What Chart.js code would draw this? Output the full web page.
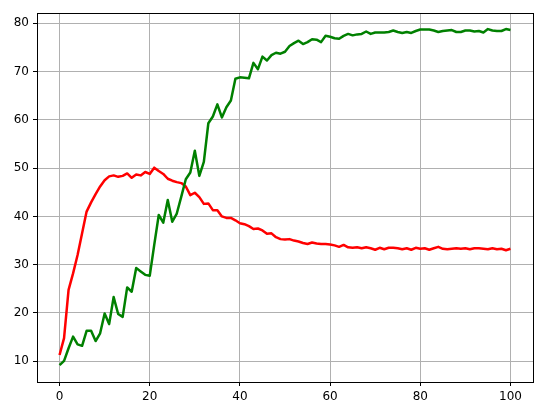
<!DOCTYPE html>
<html>
<head>
<meta charset="utf-8">
<script src="https://cdn.jsdelivr.net/npm/chart.js@4.4.1/dist/chart.umd.min.js"></script>
<style>
  html, body { margin: 0; padding: 0; background: #fff; }
  #wrap { width: 546px; height: 416px; }
</style>
</head>
<body>
<div id="wrap"><canvas id="chart" width="546" height="416"></canvas></div>
<script>
// x positions of every sample (epochs)
const steps = [
  0, 1, 2, 3, 4, 5, 6, 7, 8, 9, 10, 11, 12, 13, 14, 15, 16, 17, 18, 19,
  20, 21, 22, 23, 24, 25, 26, 27, 28, 29, 30, 31, 32, 33, 34, 35, 36, 37, 38, 39,
  40, 41, 42, 43, 44, 45, 46, 47, 48, 49, 50, 51, 52, 53, 54, 55, 56, 57, 58, 59,
  60, 61, 62, 63, 64, 65, 66, 67, 68, 69, 70, 71, 72, 73, 74, 75, 76, 77, 78, 79,
  80, 81, 82, 83, 84, 85, 86, 87, 88, 89, 90, 91, 92, 93, 94, 95, 96, 97, 98, 99,
  100
];

const redValues = [
  11.3, 14.8, 24.8, 28.2, 32.0, 36.5, 41.0, 42.9, 44.6, 46.2,
  47.5, 48.3, 48.5, 48.2, 48.4, 48.9, 48.0, 48.7, 48.5, 49.2,
  48.8, 50.1, 49.4, 48.8, 47.8, 47.4, 47.1, 46.9, 46.2, 44.4,
  44.9, 44.0, 42.6, 42.7, 41.3, 41.3, 40.0, 39.7, 39.7, 39.2,
  38.6, 38.4, 38.0, 37.4, 37.5, 37.1, 36.4, 36.5, 35.7, 35.3,
  35.2, 35.3, 35.0, 34.8, 34.5, 34.3, 34.6, 34.4, 34.3, 34.3,
  34.2, 34.0, 33.7, 34.1, 33.6, 33.5, 33.6, 33.4, 33.6, 33.4,
  33.1, 33.5, 33.2, 33.5, 33.5, 33.4, 33.2, 33.4, 33.1, 33.5,
  33.3, 33.4, 33.1, 33.4, 33.7, 33.3, 33.2, 33.3, 33.4, 33.3,
  33.4, 33.2, 33.4, 33.4, 33.3, 33.2, 33.4, 33.2, 33.3, 33.0,
  33.3
];

const greenValues = [
  9.2, 10.1, 12.7, 15.1, 13.5, 13.2, 16.3, 16.3, 14.2, 15.8,
  19.9, 17.7, 23.3, 19.8, 19.2, 25.3, 24.4, 29.3, 28.6, 27.9,
  27.7, 34.1, 40.3, 38.7, 43.4, 38.9, 40.6, 44.1, 47.7, 49.1,
  53.6, 48.4, 51.3, 59.3, 60.7, 63.2, 60.5, 62.6, 64.0, 68.5,
  68.8, 68.7, 68.6, 71.8, 70.5, 73.1, 72.3, 73.4, 73.9, 73.7,
  74.1, 75.3, 75.9, 76.4, 75.7, 76.1, 76.7, 76.6, 76.1, 77.4,
  77.2, 76.9, 76.8, 77.4, 77.8, 77.5, 77.7, 77.8, 78.3, 77.8,
  78.1, 78.1, 78.1, 78.2, 78.5, 78.2, 78.0, 78.2, 78.0, 78.4,
  78.7, 78.7, 78.7, 78.5, 78.2, 78.4, 78.5, 78.6, 78.2, 78.2,
  78.5, 78.5, 78.3, 78.4, 78.1, 78.8, 78.5, 78.4, 78.4, 78.8,
  78.6
];

const xTicks = [0, 20, 40, 60, 80, 100];
const yTicks = [10, 20, 30, 40, 50, 60, 70, 80];

const toPoints = vals => vals.map((v, i) => ({ x: steps[i], y: v }));

// matplotlib-style box round the plot area
const frame = {
  id: "frame",
  afterDraw(chart) {
    const { ctx, chartArea: a } = chart;
    ctx.save();
    ctx.strokeStyle = "#000";
    ctx.lineWidth = 1;
    ctx.strokeRect(Math.round(a.left) + 0.5, Math.round(a.top) + 0.5,
      Math.round(a.right - a.left), Math.round(a.bottom - a.top));
    ctx.restore();
  }
};

const tickFont = { family: "DejaVu Sans", size: 12 };

new Chart(document.getElementById("chart"), {
  type: "line",
  data: {
    datasets: [
      { data: toPoints(greenValues), borderColor: "#008000", borderWidth: 2.5, order: 0 },
      { data: toPoints(redValues), borderColor: "#ff0000", borderWidth: 2.5, order: 1 }
    ]
  },
  options: {
    responsive: false,
    animation: false,
    events: [],
    layout: { padding: { top: 13, right: 13, left: 0, bottom: 0 } },
    elements: { point: { radius: 0 }, line: { tension: 0, fill: false, borderJoinStyle: "round", borderCapStyle: "butt" } },
    plugins: { legend: { display: false }, tooltip: { enabled: false } },
    scales: {
      x: {
        type: "linear",
        min: -5,
        max: 105,
        afterBuildTicks: s => { s.ticks = xTicks.map(v => ({ value: v })); },
        afterFit: s => { s.height = 34; },
        ticks: { color: "#000", font: tickFont, padding: 4, maxRotation: 0 },
        grid: { color: "#b0b0b0", lineWidth: 1, tickColor: "#000", tickLength: 4 },
        border: { color: "#000", width: 1 }
      },
      y: {
        type: "linear",
        min: 5.71,
        max: 82.13,
        afterBuildTicks: s => { s.ticks = yTicks.map(v => ({ value: v })); },
        afterFit: s => { s.width = 37; },
        ticks: { color: "#000", font: tickFont, padding: 4 },
        grid: { color: "#b0b0b0", lineWidth: 1, tickColor: "#000", tickLength: 4 },
        border: { color: "#000", width: 1 }
      }
    }
  },
  plugins: [frame]
});
</script>
</body>
</html>
